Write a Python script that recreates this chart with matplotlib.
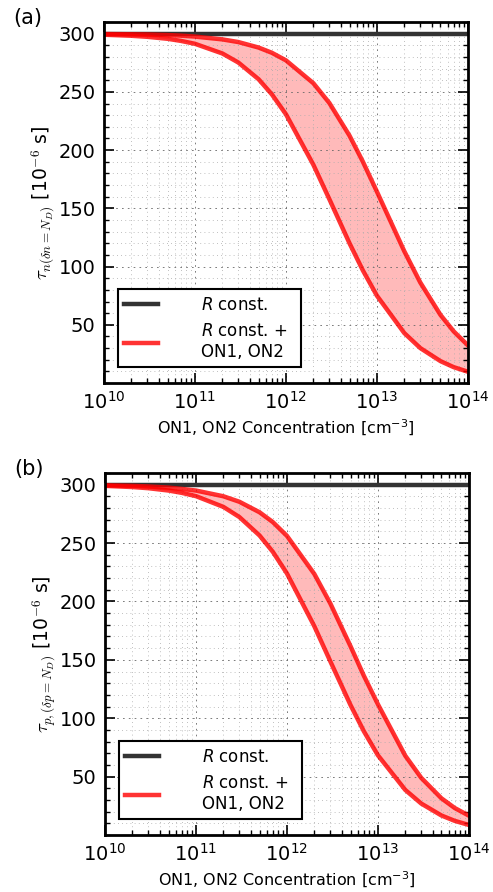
import matplotlib
matplotlib.use("Agg")
import matplotlib.pyplot as plt
from matplotlib.ticker import LogLocator, MultipleLocator, NullFormatter

# concentration of ON1, ON2 [cm^-3]
conc = [1e10, 2e10, 3e10, 5e10, 7e10,
        1e11, 2e11, 3e11, 5e11, 7e11,
        1e12, 2e12, 3e12, 5e12, 7e12,
        1e13, 2e13, 3e13, 5e13, 7e13,
        1e14]

# R const. reference lifetime [us]
tau_const = [300] * len(conc)

# panel (a): tau_n, band between the two ON1/ON2 cases
tau_n_high = [299.7, 299.5, 299.3, 298.8, 298.3,
              297.5, 295.1, 292.8, 288.1, 283.6,
              277.1, 257.5, 240.5, 212.4, 190.2,
              164.4, 113.2, 86.3, 58.5, 44.3,
              32.4]
tau_n_low = [299.1, 298.2, 297.3, 295.6, 293.8,
             291.3, 283.0, 275.2, 260.9, 247.9,
             230.8, 187.5, 157.9, 120.0, 96.8,
             75.0, 42.9, 30.0, 18.8, 13.6,
             9.7]

# panel (b): tau_p
tau_p_high = [299.5, 299.0, 298.5, 297.5, 296.4,
              295.0, 290.1, 285.4, 276.4, 268.0,
              256.2, 223.6, 198.3, 161.7, 136.5,
              112.0, 67.9, 48.9, 31.4, 23.1,
              16.6]
tau_p_low = [299.0, 298.0, 297.0, 295.0, 293.0,
             290.2, 281.0, 272.3, 256.5, 242.5,
             224.0, 178.8, 148.7, 111.3, 88.9,
             68.3, 38.6, 26.9, 16.7, 12.1,
             8.6]

panels = ["(a)", "(b)"]
y_labels = [r"$\tau_{n(\delta n=N_D)}$ [10$^{-6}$ s]",
            r"$\tau_{p,(\delta p=N_D)}$ [10$^{-6}$ s]"]
x_label = r"ON1, ON2 Concentration [cm$^{-3}$]"
legend_labels = [r"$R$ const.", "$R$ const. +\nON1, ON2"]


def style_axes(ax):
    ax.set_xscale("log")
    ax.set_xlim(1e10, 1e14)
    ax.set_ylim(0, 310)
    ax.xaxis.set_major_locator(LogLocator(base=10, numticks=10))
    ax.xaxis.set_minor_locator(LogLocator(base=10, subs=range(2, 10), numticks=20))
    ax.xaxis.set_minor_formatter(NullFormatter())
    ax.yaxis.set_major_locator(MultipleLocator(50))
    ax.yaxis.set_minor_locator(MultipleLocator(10))
    ax.set_yticks([50, 100, 150, 200, 250, 300])
    ax.tick_params(which="both", direction="in", top=True, right=True, labelsize=14)
    ax.tick_params(which="major", length=7, width=1.2, pad=6)
    ax.tick_params(which="minor", length=3.5, width=1)
    ax.grid(which="major", color="#666666", linestyle=(0, (2, 5)), linewidth=0.6)
    ax.grid(which="minor", color="#aaaaaa", linestyle=(0, (1, 4)), linewidth=0.6)
    for sp in ax.spines.values():
        sp.set_linewidth(2)


def draw_panel(ax, high, low, label, y_label):
    ax.fill_between(conc, low, high, color="red", alpha=0.27, linewidth=0)
    ax.plot(conc, tau_const, color="#333333", linewidth=3.2, label=legend_labels[0])
    ax.plot(conc, high, color="red", alpha=0.8, linewidth=3.2, label=legend_labels[1])
    ax.plot(conc, low, color="red", alpha=0.8, linewidth=3.2)
    style_axes(ax)
    ax.set_xlabel(x_label, fontsize=11.5, labelpad=3)
    ax.set_ylabel(y_label, fontsize=13.5, math_fontfamily="cm", labelpad=2)
    leg = ax.legend(loc="lower left", bbox_to_anchor=(0.015, 0.02), fontsize=12,
                    fancybox=False, framealpha=1, edgecolor="black",
                    handlelength=2.0, handletextpad=2.6, borderpad=0.4,
                    labelspacing=0.5)
    leg.get_frame().set_linewidth(1.5)
    # widen the frame on the right like the original legend box
    leg._legend_box.sep = 0
    for txt in leg.get_texts():
        txt.set_text(txt.get_text().replace("+", "+  "))
    ax.text(-0.25, 1.01, label, transform=ax.transAxes, fontsize=15, va="center")


fig = plt.figure(figsize=(4.93, 8.92), dpi=100)
ax_a = fig.add_axes([0.211, 0.5706, 0.738, 0.4047])
ax_b = fig.add_axes([0.213, 0.0639, 0.738, 0.4058])

draw_panel(ax_a, tau_n_high, tau_n_low, panels[0], y_labels[0])
draw_panel(ax_b, tau_p_high, tau_p_low, panels[1], y_labels[1])

fig.savefig("out.png", dpi=100)
